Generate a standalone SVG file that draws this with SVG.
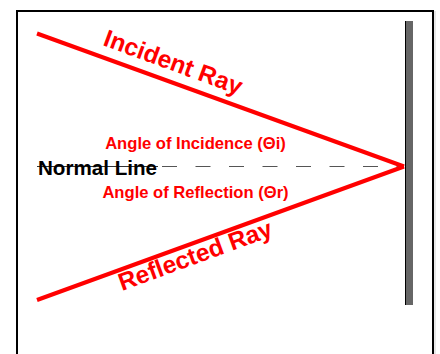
<svg xmlns="http://www.w3.org/2000/svg" width="440" height="354" viewBox="0 0 440 354">
<style>
.ray{stroke:#ff0000;stroke-width:4;fill:none;stroke-linecap:butt}
.lbl{font-family:"Liberation Sans",Arial,sans-serif;font-weight:bold}
.red{fill:#ff0000}
.big{font-size:24.5px}
.mid{font-size:16.6px}
</style>
<rect x="0" y="0" width="440" height="354" fill="#ffffff"/>
<rect x="17" y="11" width="416" height="360" fill="#ffffff" stroke="#000000" stroke-width="2"/>
<line x1="435" y1="11" x2="435" y2="354" stroke="#d0d0d0" stroke-width="1"/>
<g id="mirror">
<rect x="405" y="21" width="8" height="284" fill="#666666"/>
<line x1="405.5" y1="21" x2="405.5" y2="305" stroke="#000000" stroke-width="1"/>
</g>
<g id="connectors">
<line id="normal-solid" x1="37" y1="166.5" x2="158" y2="166.5" stroke="#333333" stroke-width="1.2"/>
<line id="normal-dashed" x1="162" y1="166.5" x2="403" y2="166.5" stroke="#555555" stroke-width="1" stroke-dasharray="15 18.5"/>
<line id="incident" class="ray" x1="37" y1="33.5" x2="404" y2="166.5"/>
<line id="reflected" class="ray" x1="37" y1="300" x2="404" y2="166.5"/>
</g>
<g id="incident-label">
<text class="lbl red big" x="102" y="45" transform="rotate(20.1 102 45)">Incident Ray</text>
</g>
<g id="reflected-label">
<text class="lbl red big" x="122" y="291" transform="rotate(-20.1 122 291)">Reflected Ray</text>
</g>
<g id="angle-incidence">
<text class="lbl red mid" x="195.5" y="148.5" text-anchor="middle">Angle of Incidence (Θi)</text>
</g>
<g id="angle-reflection">
<text class="lbl red mid" x="195.5" y="198" text-anchor="middle">Angle of Reflection (Θr)</text>
</g>
<g id="normal-label">
<text class="lbl" x="38" y="174.5" font-size="20.6" fill="#000000">Normal Line</text>
</g>
</svg>
